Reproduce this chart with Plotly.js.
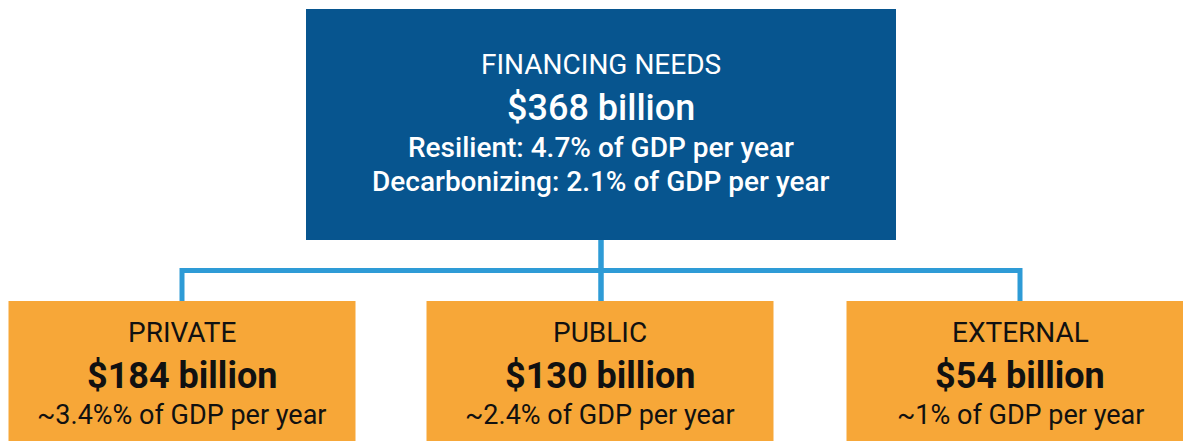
<!DOCTYPE html>
<html>
<head>
<meta charset="utf-8">
<script src="https://cdn.plot.ly/plotly-3.0.1.min.js"></script>
<style>html,body{margin:0;padding:0;background:#fff;}#chart{width:1183px;height:441px;}</style>
</head>
<body>
<div id="chart"></div>
<script>
// ---- data ----
const topLabel = 'FINANCING NEEDS';
const topTotal = 368; // $ billion
const topNotes = ['Resilient: 4.7% of GDP per year', 'Decarbonizing: 2.1% of GDP per year'];
const categories = ['PRIVATE', 'PUBLIC', 'EXTERNAL'];
const amounts = [184, 130, 54]; // $ billion
const gdpNotes = ['~3.4%% of GDP per year', '~2.4% of GDP per year', '~1% of GDP per year'];

// ---- layout geometry ----
const W = 1183, H = 441;
const BLUE = '#07558F', ORANGE = '#F7A738', LINE = '#2E9BD6';
const FONT = 'Roboto, "Noto Sans", sans-serif';
const topBox = {x0: 306, x1: 896, y0: 9, y1: 240};
const childCenters = [182, 600, 1020];
const childHalf = 173.5, childY0 = 301, childY1 = 460;
const busY = 270.5;

const shapes = [];
const annotations = [];

// connectors
shapes.push({type: 'path', xref: 'x', yref: 'y', layer: 'below',
  path: `M ${childCenters[0]} ${childY0} L ${childCenters[0]} ${busY} L ${childCenters[2]} ${busY} L ${childCenters[2]} ${childY0}`,
  line: {color: LINE, width: 5}});
shapes.push({type: 'line', xref: 'x', yref: 'y', layer: 'below',
  x0: 601, x1: 601, y0: topBox.y1, y1: childY0, line: {color: LINE, width: 5.5}});

// top box
shapes.push({type: 'rect', xref: 'x', yref: 'y', x0: topBox.x0, x1: topBox.x1, y0: topBox.y0, y1: topBox.y1,
  fillcolor: BLUE, line: {width: 0}});
const cx = (topBox.x0 + topBox.x1) / 2;
function ann(x, y, text, size, color, weight) {
  annotations.push({x: x, y: y, xref: 'x', yref: 'y', text: text, showarrow: false,
    xanchor: 'center', yanchor: 'middle',
    font: {family: FONT, size: size, color: color, weight: weight}});
}
ann(cx, 64, topLabel, 28, '#ffffff', 400);
ann(cx, 108, '$' + topTotal + ' billion', 36, '#ffffff', 500);
ann(cx, 147, topNotes[0], 28, '#ffffff', 500);
ann(cx, 181, topNotes[1], 28, '#ffffff', 500);

// child boxes
categories.forEach((c, i) => {
  const x = childCenters[i];
  shapes.push({type: 'rect', xref: 'x', yref: 'y', x0: x - childHalf, x1: x + childHalf, y0: childY0, y1: childY1,
    fillcolor: ORANGE, line: {width: 0}});
  ann(x, 332, c, 28, '#111111', 400);
  ann(x, 376, '$' + amounts[i] + ' billion', 36, '#111111', 700);
  ann(x, 415, gdpNotes[i], 27, '#111111', 400);
});

const layout = {
  width: W, height: H,
  margin: {l: 0, r: 0, t: 0, b: 0},
  paper_bgcolor: '#ffffff', plot_bgcolor: '#ffffff',
  xaxis: {range: [0, W], visible: false, fixedrange: true},
  yaxis: {range: [H, 0], visible: false, fixedrange: true},
  shapes: shapes,
  annotations: annotations,
  showlegend: false
};
Plotly.newPlot('chart', [], layout, {staticPlot: true, displayModeBar: false});
</script>
</body>
</html>
